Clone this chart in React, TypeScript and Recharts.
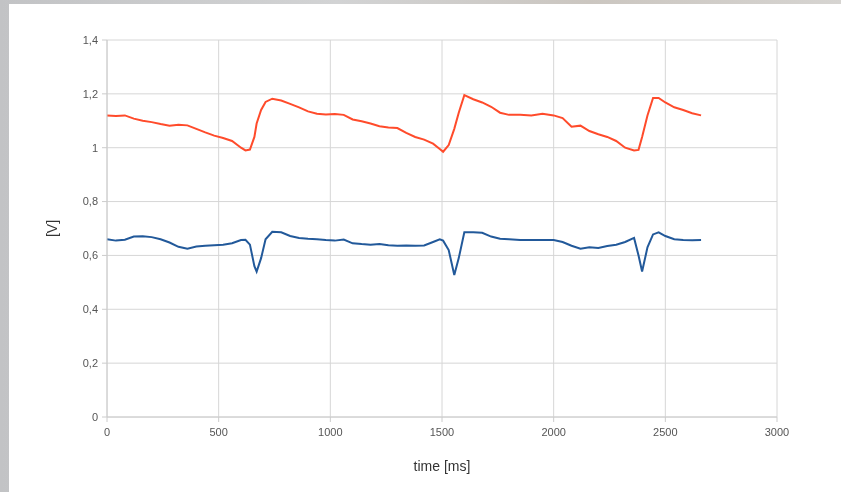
import { LineChart, Line, XAxis, YAxis, CartesianGrid, Label } from "recharts";

const timeMs = [
  0, 40, 80, 120, 160, 200, 240, 280, 320, 360, 400, 440, 480, 520, 560, 600, 620, 640, 660, 670, 690, 710,
  740, 780, 820, 860, 900, 940, 980, 1020, 1060, 1100, 1140, 1180, 1220, 1260, 1300, 1340, 1380, 1420, 1460,
  1490, 1505, 1530, 1555, 1575, 1600, 1640, 1680, 1720, 1760, 1800, 1850, 1900, 1950, 2000, 2040, 2080, 2120,
  2160, 2200, 2240, 2280, 2320, 2360, 2380, 2396, 2420, 2445, 2470, 2500, 2540, 2580, 2620, 2660,
];

const redV = [
  1.12, 1.118, 1.12, 1.108, 1.1, 1.095, 1.088, 1.082, 1.085, 1.083, 1.07, 1.057, 1.045, 1.036, 1.025, 1.0, 0.99,
  0.993, 1.04, 1.09, 1.14, 1.17, 1.182, 1.175, 1.163, 1.15, 1.135, 1.126, 1.123, 1.125, 1.122, 1.105, 1.098,
  1.09, 1.08, 1.075, 1.073, 1.055, 1.04, 1.03, 1.015, 0.995, 0.985, 1.01, 1.07, 1.13, 1.195, 1.18, 1.168,
  1.152, 1.13, 1.122, 1.122, 1.12, 1.126, 1.12, 1.11, 1.078, 1.082, 1.062, 1.05, 1.04, 1.025, 1.0, 0.99, 0.992,
  1.04, 1.12, 1.185, 1.185, 1.168, 1.15, 1.14, 1.128, 1.12,
];

const blueV = [
  0.66, 0.655, 0.658, 0.67, 0.671, 0.668, 0.66, 0.648, 0.632, 0.625, 0.633, 0.636, 0.638, 0.64, 0.645, 0.657,
  0.658, 0.64, 0.56, 0.54, 0.59, 0.66, 0.688, 0.686, 0.672, 0.665, 0.662, 0.66, 0.657, 0.655, 0.659, 0.645,
  0.642, 0.64, 0.642, 0.638, 0.636, 0.637, 0.636, 0.637, 0.65, 0.66, 0.655, 0.62, 0.527, 0.59, 0.686, 0.686,
  0.684, 0.67, 0.662, 0.66, 0.657, 0.657, 0.657, 0.657, 0.65, 0.636, 0.625, 0.63, 0.628, 0.635, 0.64, 0.65,
  0.665, 0.6, 0.54, 0.63, 0.678, 0.686, 0.672, 0.66, 0.657, 0.656, 0.657,
];

const xTicks = [0, 500, 1000, 1500, 2000, 2500, 3000];
const yTicks = [0, 0.2, 0.4, 0.6, 0.8, 1, 1.2, 1.4];

const data = timeMs.map((t, i) => ({ t, red: redV[i], blue: blueV[i] }));

const tickStyle = { fill: "#555", fontSize: 11, fontFamily: "Liberation Sans, Arial, sans-serif" };

export default function App() {
  return (
    <div
      style={{
        position: "absolute",
        left: 0,
        top: 0,
        width: 841,
        height: 492,
        overflow: "hidden",
        background: "linear-gradient(90deg, #c2c3c5 0%, #d2d3d4 40%, #cbc6c0 70%, #d6d4d1 100%)",
      }}
    >
      <div
        style={{
          position: "absolute",
          left: 9,
          top: 4,
          width: 832,
          height: 488,
          background: "#fff",
        }}
      />
      <div style={{ position: "absolute", left: 0, top: 0, filter: "blur(0.4px)" }}>
        <LineChart width={841} height={492} data={data} margin={{ top: 40, right: 64, bottom: 19, left: 20 }}>
          <CartesianGrid stroke="#d6d6d6" strokeWidth={1} />
          <XAxis
            dataKey="t"
            type="number"
            domain={[0, 3000]}
            ticks={xTicks}
            height={56}
            axisLine={{ stroke: "#cccccc" }}
            tickLine={{ stroke: "#cccccc" }}
            tickSize={5}
            tick={{ ...tickStyle, dy: 4 }}
          >
            <Label
              value="time [ms]"
              position="insideBottom"
              offset={2}
              style={{ fill: "#333", fontSize: 14, fontFamily: "Liberation Sans, Arial, sans-serif" }}
            />
          </XAxis>
          <YAxis
            type="number"
            domain={[0, 1.4]}
            ticks={yTicks}
            width={87}
            axisLine={{ stroke: "#cccccc" }}
            tickLine={{ stroke: "#cccccc" }}
            tickSize={5}
            tick={{ ...tickStyle, dx: -2 }}
            tickFormatter={(v: number) => String(v).replace(".", ",")}
          >
            <Label
              value="[V]"
              angle={-90}
              position="insideLeft"
              offset={32}
              style={{ fill: "#333", fontSize: 14, fontFamily: "Liberation Sans, Arial, sans-serif", textAnchor: "middle" }}
            />
          </YAxis>
          <Line
            type="linear"
            dataKey="red"
            stroke="#ff4b2b"
            strokeWidth={2}
            dot={false}
            isAnimationActive={false}
          />
          <Line
            type="linear"
            dataKey="blue"
            stroke="#22599a"
            strokeWidth={2}
            dot={false}
            isAnimationActive={false}
          />
        </LineChart>
      </div>
    </div>
  );
}
